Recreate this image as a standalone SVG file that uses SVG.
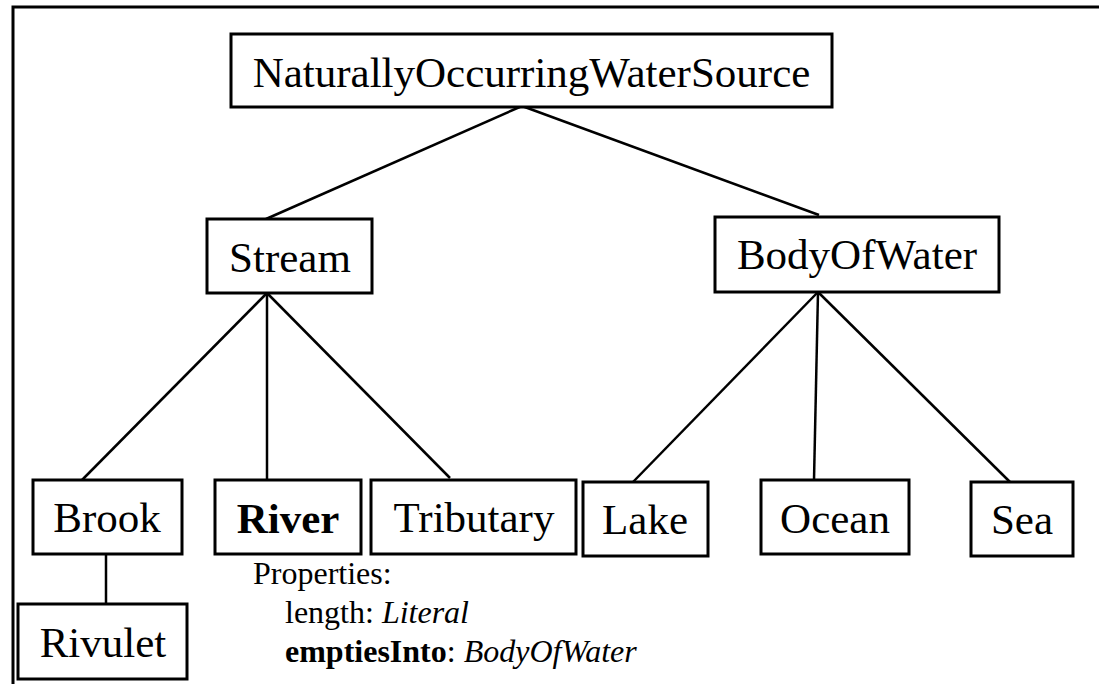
<svg xmlns="http://www.w3.org/2000/svg" width="1099" height="684" viewBox="0 0 1099 684">
  <style>
    .box { fill: #ffffff; stroke: #000000; stroke-width: 3; }
    .lbl { font-family: 'Liberation Serif', 'Times New Roman', serif; font-size: 43px; fill: #000000; text-anchor: middle; }
    .prop { font-family: 'Liberation Serif', 'Times New Roman', serif; font-size: 32px; fill: #000000; }
    .edge { stroke: #000000; stroke-width: 2.5; fill: none; }
  </style>
  <rect width="1099" height="684" fill="#ffffff"/>
  <!-- outer frame: top and left rules only -->
  <path d="M13 700 V7 H1110" fill="none" stroke="#000000" stroke-width="3"/>

  <g id="connectors">
    <line class="edge" x1="522" y1="106" x2="266" y2="219"/>
    <line class="edge" x1="522" y1="106" x2="819" y2="215"/>
    <line class="edge" x1="267" y1="293" x2="82" y2="480"/>
    <line class="edge" x1="267" y1="293" x2="267" y2="480"/>
    <line class="edge" x1="267" y1="293" x2="450" y2="478"/>
    <line class="edge" x1="818" y1="292" x2="633" y2="482"/>
    <line class="edge" x1="818" y1="292" x2="814" y2="480"/>
    <line class="edge" x1="818" y1="292" x2="1010" y2="482"/>
    <line class="edge" x1="106" y1="554" x2="106" y2="604"/>
  </g>

  <g id="node-root">
    <rect class="box" x="231" y="34" width="601" height="73"/>
    <text class="lbl" x="531.5" y="87">NaturallyOccurringWaterSource</text>
  </g>
  <g id="node-stream">
    <rect class="box" x="207" y="219" width="165" height="74"/>
    <text class="lbl" x="290" y="272">Stream</text>
  </g>
  <g id="node-bodyofwater">
    <rect class="box" x="715" y="217" width="284" height="75"/>
    <text class="lbl" x="857" y="269">BodyOfWater</text>
  </g>
  <g id="node-brook">
    <rect class="box" x="33" y="480" width="149" height="74"/>
    <text class="lbl" x="107" y="532">Brook</text>
  </g>
  <g id="node-river">
    <rect class="box" x="215" y="480" width="146" height="74"/>
    <text class="lbl" x="288" y="533" font-weight="bold">River</text>
  </g>
  <g id="node-tributary">
    <rect class="box" x="371" y="480" width="205" height="74"/>
    <text class="lbl" x="474" y="532">Tributary</text>
  </g>
  <g id="node-lake">
    <rect class="box" x="583" y="482" width="125" height="74"/>
    <text class="lbl" x="645" y="534">Lake</text>
  </g>
  <g id="node-ocean">
    <rect class="box" x="761" y="480" width="148" height="74"/>
    <text class="lbl" x="835" y="533">Ocean</text>
  </g>
  <g id="node-sea">
    <rect class="box" x="971" y="482" width="102" height="74"/>
    <text class="lbl" x="1022" y="534">Sea</text>
  </g>
  <g id="node-rivulet">
    <rect class="box" x="18" y="604" width="169" height="75"/>
    <text class="lbl" x="103" y="657">Rivulet</text>
  </g>

  <g id="river-properties">
    <text class="prop" x="253" y="584">Properties:</text>
    <text class="prop" x="285" y="623">length: <tspan font-style="italic">Literal</tspan></text>
    <text class="prop" x="285" y="662"><tspan font-weight="bold">emptiesInto</tspan>: <tspan font-style="italic">BodyOfWater</tspan></text>
  </g>
</svg>
